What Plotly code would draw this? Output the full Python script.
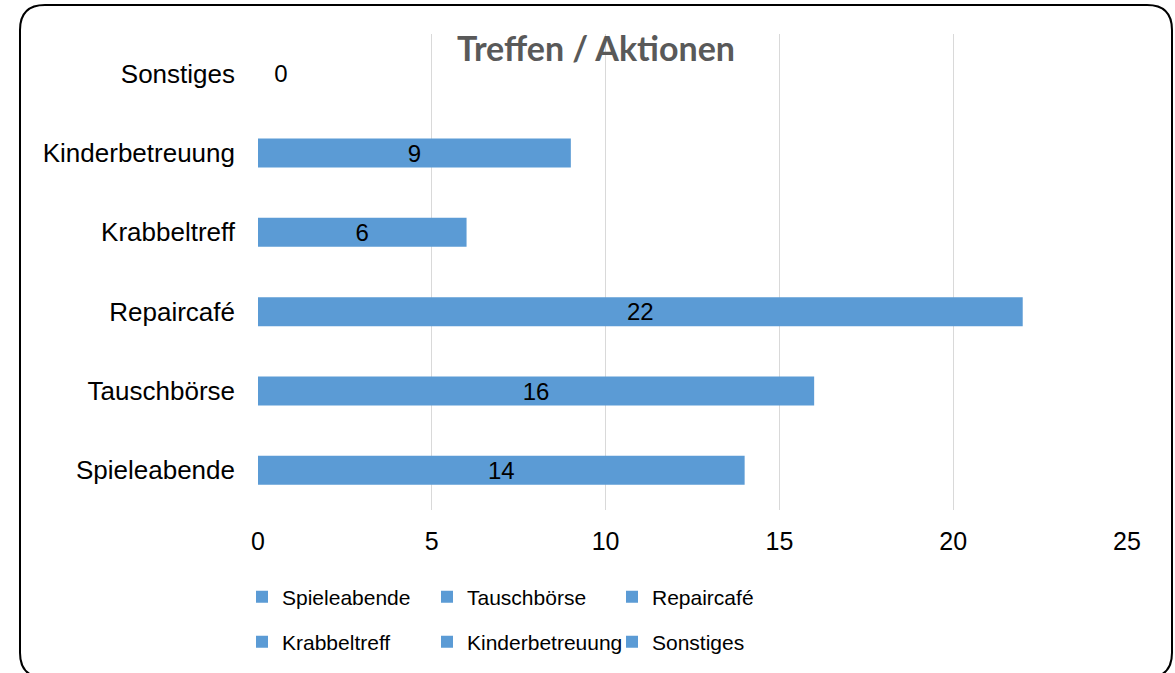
import plotly.graph_objects as go

categories = ["Spieleabende", "Tauschbörse", "Repaircafé", "Krabbeltreff", "Kinderbetreuung", "Sonstiges"]
values = [14, 16, 22, 6, 9, 0]
x_ticks = [0, 5, 10, 15, 20, 25]
title_text = "Treffen / Aktionen"

W, H = 1175, 673
L, R, T, B = 258, 48, 34, 162
PW, PH = W - L - R, H - T - B

def px2paper(px, py):
    return (px - L) / PW, (H - B - py) / PH

BAR = "#5B9BD5"
FONT = "Liberation Sans, Arial, sans-serif"

fig = go.Figure()
for i, (c, v) in enumerate(zip(categories, values)):
    fig.add_trace(go.Bar(
        x=[v], y=[c], orientation="h", name=c,
        marker=dict(color=BAR, line=dict(width=0)),
        width=0.365,
        texttemplate="\u00a0\u00a0%{x}" if v == 0 else "%{x}",
        textposition="outside" if v == 0 else "inside",
        insidetextanchor="middle",
        textangle=0,
        constraintext="none",
        textfont=dict(family=FONT, size=24, color="#000000"),
        cliponaxis=False,
        legend="legend" if i < 3 else "legend2",
    ))

# rounded border (decoration)
x0, y0, x1, y1, r = 20, 5, 1172, 679, 25
def P(px, py):
    a, b = px2paper(px, py)
    return f"{a:.5f},{b:.5f}"
path = (f"M{P(x0 + r, y0)} L{P(x1 - r, y0)} Q{P(x1, y0)} {P(x1, y0 + r)} "
        f"L{P(x1, y1 - r)} Q{P(x1, y1)} {P(x1 - r, y1)} "
        f"L{P(x0 + r, y1)} Q{P(x0, y1)} {P(x0, y1 - r)} "
        f"L{P(x0, y0 + r)} Q{P(x0, y0)} {P(x0 + r, y0)} Z")
fig.add_shape(type="path", path=path, xref="paper", yref="paper",
              line=dict(color="#000000", width=2), layer="above")

lx, _ = px2paper(242, 0)
_, ly1 = px2paper(0, 597)
_, ly2 = px2paper(0, 642)

fig.update_layout(
    width=W, height=H,
    margin=dict(l=L, r=R, t=T, b=B),
    paper_bgcolor="#FFFFFF", plot_bgcolor="#FFFFFF",
    barmode="overlay",
    title=dict(text=f"<b>{title_text}</b>", x=596 / W, xref="container", xanchor="center",
               y=1 - 49 / H, yref="container", yanchor="middle",
               font=dict(family="Lato, Open Sans, sans-serif", size=34, color="#595959")),
    xaxis=dict(range=[0, 25], tickvals=x_ticks, showgrid=True, gridcolor="#D9D9D9", gridwidth=1.3,
               zeroline=False, showline=False, ticks="", ticklabelstandoff=14,
               tickfont=dict(family=FONT, size=25, color="#000000"), fixedrange=True),
    yaxis=dict(categoryorder="array", categoryarray=categories, range=[-0.5, 5.5],
               showgrid=False, zeroline=False, showline=False, ticks="", ticklabelstandoff=22,
               tickfont=dict(family=FONT, size=26, color="#000000"), fixedrange=True),
    legend=dict(orientation="h", x=lx, xanchor="left", y=ly1, yanchor="middle",
                entrywidth=140, entrywidthmode="pixels",
                font=dict(family=FONT, size=21, color="#000000"), bgcolor="rgba(0,0,0,0)"),
    legend2=dict(orientation="h", x=lx, xanchor="left", y=ly2, yanchor="middle",
                 entrywidth=140, entrywidthmode="pixels",
                 font=dict(family=FONT, size=21, color="#000000"), bgcolor="rgba(0,0,0,0)"),
    showlegend=True,
)

fig.write_html("out.html", config={"displayModeBar": False},
               post_script="document.body.style.margin='0';document.body.style.overflow='hidden';")
